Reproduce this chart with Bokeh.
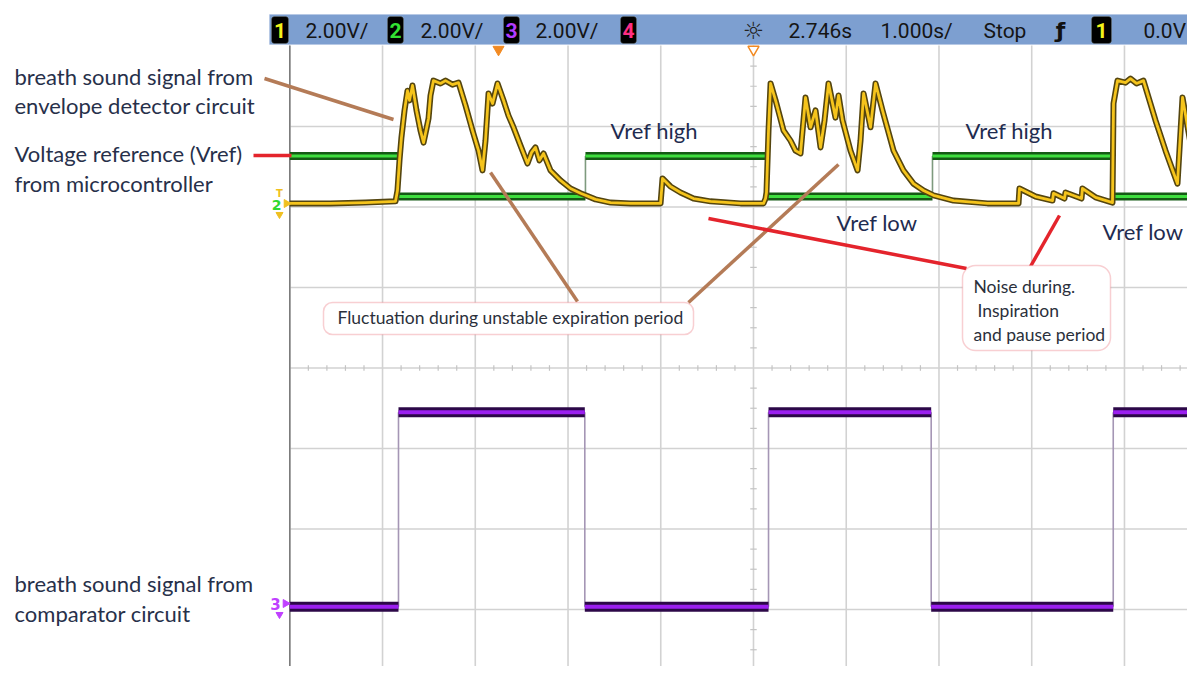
import math
from bokeh.plotting import figure
from bokeh.models import Range1d, Label, BoxAnnotation
from bokeh.embed import file_html
from bokeh.resources import INLINE

# ---------------- data (time in s, screen volts; 1.000 s/div, 2.00 V/div) ----------------
# channel 1: breath sound envelope (yellow)
env_time_s = [0.000, 0.439, 0.816, 1.140, 1.161, 1.183, 1.204, 1.237, 1.269, 1.291, 1.323,
              1.366, 1.409, 1.442, 1.474, 1.496, 1.517, 1.549, 1.625, 1.679, 1.754, 1.819,
              1.895, 1.970, 2.035, 2.078, 2.110, 2.143, 2.186, 2.240, 2.304, 2.358, 2.412,
              2.487, 2.563, 2.606, 2.649, 2.692, 2.736, 2.811, 2.919, 3.027, 3.135, 3.297,
              3.459, 3.674, 3.998,
              4.019, 4.105, 4.213, 4.353, 4.536, 4.860, 5.108, 5.130, 5.140, 5.162, 5.184,
              5.238, 5.324, 5.399, 5.453, 5.507, 5.561, 5.615, 5.669, 5.723, 5.766, 5.809,
              5.884, 5.917, 5.960, 6.046, 6.122, 6.154, 6.187, 6.262, 6.316, 6.391, 6.510,
              6.617, 6.725, 6.833, 6.941, 7.157, 7.523, 7.858,
              7.868, 8.041, 8.224, 8.235, 8.353, 8.364, 8.537, 8.547, 8.688, 8.871, 8.882,
              8.925, 9.011, 9.065, 9.130, 9.205, 9.335, 9.443, 9.572, 9.626, 9.669, 9.712,
              9.744, 9.777, 9.820, 9.852]
env_volt = [4.09, 4.09, 4.11, 4.14, 4.41, 5.16, 5.73, 6.40, 6.89, 6.65, 7.02,
            6.40, 5.90, 5.60, 5.95, 6.20, 6.77, 7.14, 7.07, 7.14, 7.04, 7.09,
            6.52, 5.90, 5.40, 4.91, 5.65, 6.82, 6.57, 7.07, 6.65, 6.27, 5.98,
            5.53, 5.08, 5.35, 5.48, 5.16, 5.33, 4.91, 4.66, 4.46, 4.34, 4.19,
            4.11, 4.09, 4.09,
            4.71, 4.51, 4.36, 4.21, 4.14, 4.09, 4.09, 4.21, 4.36, 5.90, 7.07,
            6.65, 5.90, 5.65, 5.40, 5.33, 6.72, 5.98, 6.40, 5.48, 6.15, 7.07,
            6.22, 6.77, 6.15, 5.40, 4.91, 5.65, 6.82, 5.98, 7.07, 6.40, 5.40,
            4.91, 4.58, 4.41, 4.29, 4.16, 4.09, 4.09,
            4.46, 4.26, 4.16, 4.34, 4.21, 4.36, 4.21, 4.46, 4.24, 4.11, 6.57,
            7.14, 7.09, 7.19, 7.07, 7.14, 6.15, 5.40, 4.58, 6.72, 6.15, 5.58,
            6.82, 6.40, 7.02, 7.14]

# channel 2: voltage reference from microcontroller (green), level per interval
vref_edges_s = [0.0, 1.172, 3.188, 5.151, 6.930, 8.871, 9.90]
vref_level_v = [5.27, 4.26, 5.27, 4.26, 5.27, 4.26]

# channel 3: comparator output (purple), level per interval
comp_edges_s = [0.0, 1.172, 3.181, 5.162, 6.916, 8.879, 9.90]
comp_level_v = [-5.93, -1.10, -5.93, -1.10, -5.93, -1.10]

channel_scales = ["2.00V/", "2.00V/", "2.00V/"]
time_ref_text = "2.746s"
time_scale_text = "1.000s/"
run_state_text = "Stop"
trig_level_text = "0.0V"

# ---------------- layout helpers (reference pixel -> data units) ----------------
X0_PX, PX_PER_S = 289.3, 92.74
Y0_PX, PX_PER_V = 367.5, 40.25


def PX(x):
    return (x - X0_PX) / PX_PER_S


def PY(y):
    return (Y0_PX - y) / PX_PER_V


W, H = 1187, 666
p = figure(width=W, height=H, x_range=Range1d(PX(0), PX(W)),
           y_range=Range1d(PY(H), PY(0)), output_backend="svg",
           toolbar_location=None, x_axis_location=None, y_axis_location=None,
           min_border=0, outline_line_color=None,
           background_fill_color="white", border_fill_color="white")
p.grid.visible = False

# ---------------- graticule ----------------
gx = list(range(0, 11))
gy = [-6, -4, -2, 0, 2, 4, 6]
p.segment(x0=gx, x1=gx, y0=[-8.5] * len(gx), y1=[PY(45)] * len(gx),
          line_color="#d2d2d2", line_width=1.6)
p.segment(x0=[0] * len(gy), x1=[10.5] * len(gy), y0=gy, y1=gy,
          line_color="#d2d2d2", line_width=1.6)
# minor ticks on centre lines
mv = [k * 0.5 for k in range(-16, 17) if k % 4 != 0]
p.segment(x0=[5 - 0.035] * len(mv), x1=[5 + 0.035] * len(mv), y0=mv, y1=mv,
          line_color="#c4c4c4", line_width=1.2)
mh = [k * 0.2 for k in range(0, 51) if k % 5 != 0]
p.segment(x0=mh, x1=mh, y0=[-0.07] * len(mh), y1=[0.07] * len(mh),
          line_color="#c4c4c4", line_width=1.2)
# screen left edge
p.segment(x0=[0], x1=[0], y0=[-8.5], y1=[PY(45)], line_color="#7c7c7c", line_width=1.6)

# ---------------- traces ----------------
def step_trace(edges, levels, outer, inner, edge_col, w_out, w_in):
    p.segment(x0=edges[1:-1], x1=edges[1:-1], y0=levels[:-1], y1=levels[1:],
              line_color=edge_col, line_width=1.6)
    p.segment(x0=edges[:-1], x1=edges[1:], y0=levels, y1=levels,
              line_color=outer, line_width=w_out)
    p.segment(x0=edges[:-1], x1=edges[1:], y0=levels, y1=levels,
              line_color=inner, line_width=w_in)


step_trace(vref_edges_s, vref_level_v, "#145a14", "#3ede3e", "#7e9a7e", 8, 3)
step_trace(comp_edges_s, comp_level_v, "#2c0848", "#9b1ff0", "#a596b5", 10, 4)

p.line(env_time_s, env_volt, line_color="#54450f", line_width=6, line_join="round")
p.line(env_time_s, env_volt, line_color="#f5c41c", line_width=2.8, line_join="round")

# ---------------- pointer lines ----------------
brown = [((264, 78), (393, 119)), ((490, 172), (577, 301)), ((688, 302), (838, 164))]
red = [((253, 155), (291, 155)), ((708, 218), (966, 268)), ((1030, 266), (1059, 215))]
p.segment(x0=[PX(a[0]) for a, b in brown], y0=[PY(a[1]) for a, b in brown],
          x1=[PX(b[0]) for a, b in brown], y1=[PY(b[1]) for a, b in brown],
          line_color="#b47b57", line_width=3.5)
p.segment(x0=[PX(a[0]) for a, b in red], y0=[PY(a[1]) for a, b in red],
          x1=[PX(b[0]) for a, b in red], y1=[PY(b[1]) for a, b in red],
          line_color="#e4242c", line_width=3.5)

# trigger / time reference markers
p.scatter(x=[PX(498)], y=[PY(49)], marker="inverted_triangle", size=11,
          fill_color="#f28a22", line_color="#f28a22")
p.scatter(x=[5.0], y=[PY(49)], marker="inverted_triangle", size=11,
          fill_color="white", line_color="#f28a22", line_width=1.5)

# channel ground markers
p.scatter(x=[PX(286)], y=[PY(203)], marker="triangle", angle=-math.pi / 2, size=8,
          fill_color="#f0c020", line_color="#f0c020")
p.scatter(x=[PX(279)], y=[PY(214)], marker="inverted_triangle", size=7,
          fill_color="#f0c020", line_color="#f0c020")
p.scatter(x=[PX(285)], y=[PY(603)], marker="triangle", angle=-math.pi / 2, size=8,
          fill_color="#c040ff", line_color="#c040ff")
p.scatter(x=[PX(279)], y=[PY(614)], marker="inverted_triangle", size=7,
          fill_color="#c040ff", line_color="#c040ff")

# ---------------- header bar ----------------
p.add_layout(BoxAnnotation(left=PX(269), right=PX(1215), top=PY(14), bottom=PY(44),
                           fill_color="#7d9fd0", fill_alpha=1.0,
                           line_color="#a8bde0", line_width=1))

HFONT = "Roboto"
boxes = [(271, 288, "1", "#f2f21a"), (387, 403, "2", "#33e033"),
         (503, 519, "3", "#b43cff"), (620, 636, "4", "#ff2d83"),
         (1091, 1111, "1", "#f2f21a")]
for l, r, t, c in boxes:
    p.add_layout(BoxAnnotation(left=PX(l), right=PX(r), top=PY(16), bottom=PY(43),
                               fill_color="black", fill_alpha=1.0,
                               line_color="#8f8f7a", line_width=1, border_radius=3))
    p.add_layout(Label(x=PX((l + r) / 2), y=PY(30), text=t, text_color=c,
                       text_font=HFONT, text_font_size="21px", text_font_style="bold",
                       text_align="center", text_baseline="middle"))

hdr = [(305, channel_scales[0]), (420, channel_scales[1]), (535, channel_scales[2]),
       (788, time_ref_text), (880, time_scale_text), (983, run_state_text),
       (1143, trig_level_text)]
for x, t in hdr:
    p.add_layout(Label(x=PX(x), y=PY(30), text=t, text_color="#151515",
                       text_font=HFONT, text_font_size="21px",
                       text_align="left", text_baseline="middle"))
p.add_layout(Label(x=PX(753), y=PY(30), text="☼", text_color="#222222",
                   text_font="DejaVu Sans", text_font_size="24px",
                   text_align="center", text_baseline="middle"))
p.add_layout(Label(x=PX(1060), y=PY(30), text="ƒ", text_color="#111111",
                   text_font="DejaVu Sans", text_font_size="22px", text_font_style="bold",
                   text_align="center", text_baseline="middle"))

# channel numerals on the left edge
p.add_layout(Label(x=PX(276), y=PY(204), text="2", text_color="#30d830",
                   text_font="DejaVu Sans", text_font_size="14px", text_font_style="bold",
                   text_align="center", text_baseline="middle"))
p.add_layout(Label(x=PX(279), y=PY(193), text="T", text_color="#f0c020",
                   text_font="DejaVu Sans", text_font_size="10px", text_font_style="bold",
                   text_align="center", text_baseline="middle"))
p.add_layout(Label(x=PX(275), y=PY(603), text="3", text_color="#c040ff",
                   text_font="DejaVu Sans", text_font_size="15px", text_font_style="bold",
                   text_align="center", text_baseline="middle"))

# ---------------- callout boxes ----------------
p.add_layout(BoxAnnotation(left=PX(323), right=PX(693), top=PY(302), bottom=PY(334),
                           fill_color="white", fill_alpha=1.0, line_color="#e8606a",
                           line_width=1.5, border_radius=9))
p.add_layout(BoxAnnotation(left=PX(962), right=PX(1110), top=PY(265), bottom=PY(350),
                           fill_color="white", fill_alpha=1.0, line_color="#e8606a",
                           line_width=1.5, border_radius=13))

# ---------------- annotation texts ----------------
AFONT = "Lato"
left_notes = [("breath sound signal from", 75.5), ("envelope detector  circuit", 105),
              ("Voltage reference (Vref)", 152.5), ("from microcontroller", 182.5),
              ("breath sound signal from", 582.5), ("comparator  circuit", 612.5)]
for t, yb in left_notes:
    p.add_layout(Label(x=PX(14), y=PY(yb), text=t, text_color="#27304a",
                       text_font=AFONT, text_font_size="22px",
                       text_align="left", text_baseline="alphabetic"))

vref_notes = [("Vref high", 610, 129.5), ("Vref high", 965, 129.5),
              ("Vref low", 836, 221.5), ("Vref low", 1102, 230.5)]
for t, x, yb in vref_notes:
    p.add_layout(Label(x=PX(x), y=PY(yb), text=t, text_color="#1f2c50",
                       text_font=AFONT, text_font_size="22px",
                       text_align="left", text_baseline="alphabetic"))

p.add_layout(Label(x=PX(337), y=PY(317), text="Fluctuation during unstable expiration period",
                   text_color="#2b303b", text_font=AFONT, text_font_size="17.5px",
                   text_align="left", text_baseline="alphabetic"))
for t, x, yb in [("Noise during.", 973, 286), ("Inspiration", 977, 309.5),
                 ("and pause period", 973, 333.5)]:
    p.add_layout(Label(x=PX(x), y=PY(yb), text=t, text_color="#2b303b",
                       text_font=AFONT, text_font_size="17.5px",
                       text_align="left", text_baseline="alphabetic"))

open("out.html", "w").write(file_html(p, INLINE))
